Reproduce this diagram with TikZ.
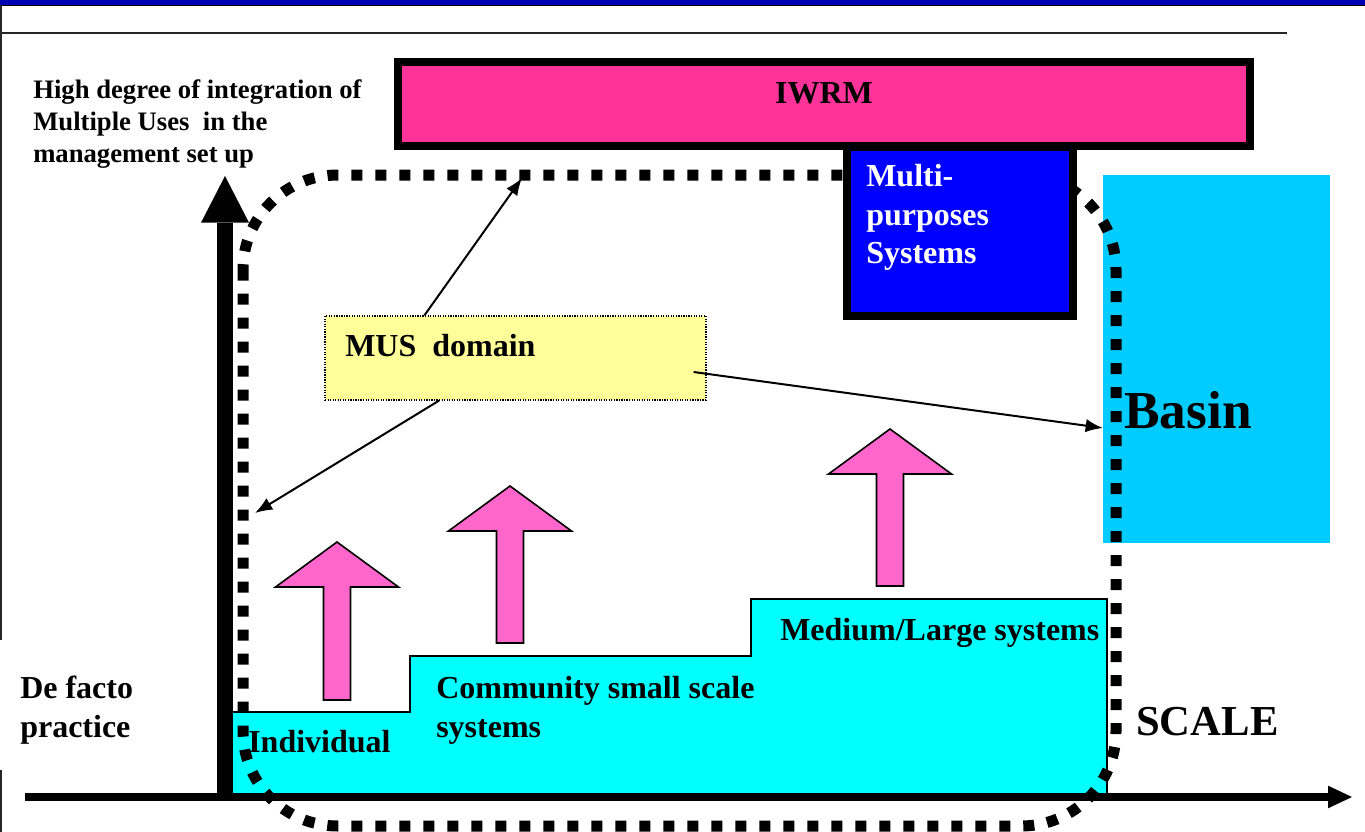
\documentclass[tikz,border=0pt]{standalone}
\usepackage{fontspec}
\setmainfont{Liberation Serif}
\usepackage{xcolor}
\usetikzlibrary{arrows.meta,positioning}

\definecolor{topblue}{HTML}{0000B4}
\definecolor{iwrmpink}{HTML}{FF3399}
\definecolor{multiblue}{HTML}{0000FF}
\definecolor{basinblue}{HTML}{00CCFF}
\definecolor{stepcyan}{HTML}{00FFFF}
\definecolor{uppink}{HTML}{FF66CC}
\definecolor{musyellow}{HTML}{FFFF99}

\begin{document}
\begin{tikzpicture}[
  x=0.75pt, y=-0.75pt,
  bigtext/.style={font=\fontsize{24}{29}\selectfont\bfseries, inner sep=0pt},
  axistext/.style={font=\fontsize{20}{24}\selectfont\bfseries, inner sep=0pt},
  upbox/.style={draw=black, line width=1.2pt, fill=uppink, line join=miter},
  thinarrow/.style={-{Latex[length=13pt,width=10pt]}, line width=1.5pt}
]
  \useasboundingbox (0,0) rectangle (1365,832);

  % frame of the slide
  \fill[topblue] (0,0) rectangle (1365,5);
  \draw[line width=1pt] (0,5.5) -- (1365,5.5);
  \draw[line width=1.1pt, black!85] (0,33) -- (1287,33);
  \draw[line width=1.1pt, black!85] (1,5) -- (1,640);
  \draw[line width=1.1pt, black!85] (1,770) -- (1,832);

  % basin and the scale steps
  \fill[basinblue] (1103,175) rectangle (1330,543);
  \filldraw[fill=stepcyan, draw=black, line width=1.2pt]
    (231,795) -- (231,712) -- (410,712) -- (410,656) -- (751,656)
    -- (751,599) -- (1107,599) -- (1107,795) -- cycle;

  % pink arrows
  \foreach \cx/\yb/\yt in {337/700/542, 510/643/486, 890/586/429}
    \filldraw[upbox] (\cx-13.5,\yb) -- (\cx+13.5,\yb) -- (\cx+13.5,\yt+45)
      -- (\cx+61.5,\yt+45) -- (\cx,\yt) -- (\cx-61.5,\yt+45)
      -- (\cx-13.5,\yt+45) -- cycle;

  % axes
  \coordinate (yfoot) at (225,801);
  \coordinate (ytip)  at (225,176);
  \coordinate (xfoot) at (25,797);
  \coordinate (xtip)  at (1352,797);
  \draw[line width=12pt, -{Triangle[length=35pt,width=36pt,line width=0pt]}]
    (yfoot) -- (ytip);
  \draw[line width=6pt, -{Triangle[length=18pt,width=17pt,line width=0pt]}]
    (xfoot) -- (xtip);

  % MUS domain outline
  \draw[line width=8.25pt, dash pattern=on 8.25pt off 9.75pt, rounded corners=71pt]
    (243,175) rectangle (1116,826);

  % management boxes
  \node[draw=black, line width=5.5pt, fill=multiblue,
        minimum width=169.5pt, minimum height=126.75pt] (multi) at (960,231.5) {};
  \node[draw=black, line width=6pt, fill=iwrmpink,
        minimum width=639pt, minimum height=63pt] (iwrm) at (824,104) {};
  \node[bigtext, anchor=base] (iwrmtext) at (824,103.5) {IWRM};
  \node[bigtext, text=white, align=left, anchor=north west] (multitext)
    at (866,164) {Multi-\\purposes\\Systems};

  \node[draw=black, densely dotted, line width=0.9pt, fill=musyellow,
        minimum width=285.75pt, minimum height=63pt] (mus) at (515.5,358) {};
  \node[bigtext, anchor=base west] (mustext) at (345,356) {MUS\ \ domain};

  % pointers from the MUS domain
  \coordinate (domtop)  at (522,178);
  \coordinate (domleft) at (255,513);
  \coordinate (basinedge) at (1103,428);
  \draw[thinarrow] ([xshift=75pt]mus.north west) -- (domtop);
  \draw[thinarrow] ([xshift=86pt]mus.south west) -- (domleft);
  \draw[thinarrow] ([xshift=-9.75pt,yshift=-10.5pt]mus.east) -- (basinedge);

  % labels
  \node[axistext, align=left, anchor=north west] (integration) at (33,79)
    {High degree of integration of\\Multiple Uses\ \ in the\\management set up};
  \node[bigtext, align=left, anchor=north west] (defacto) at (20,676)
    {De facto\\practice};
  \node[bigtext, anchor=west] (individual) at (248,742) {Individual};
  \node[bigtext, align=left, anchor=north west] (community) at (436,676)
    {Community small scale\\systems};
  \node[bigtext, anchor=base west] (medium) at (780,640) {Medium/Large systems};
  \node[font=\fontsize{32}{38}\selectfont\bfseries, inner sep=0pt, anchor=base west]
    (scale) at (1136,735) {SCALE};
  \node[font=\fontsize{40}{48}\selectfont\bfseries, inner sep=0pt, anchor=base west]
    (basin) at (1124,428) {Basin};
\end{tikzpicture}
\end{document}
